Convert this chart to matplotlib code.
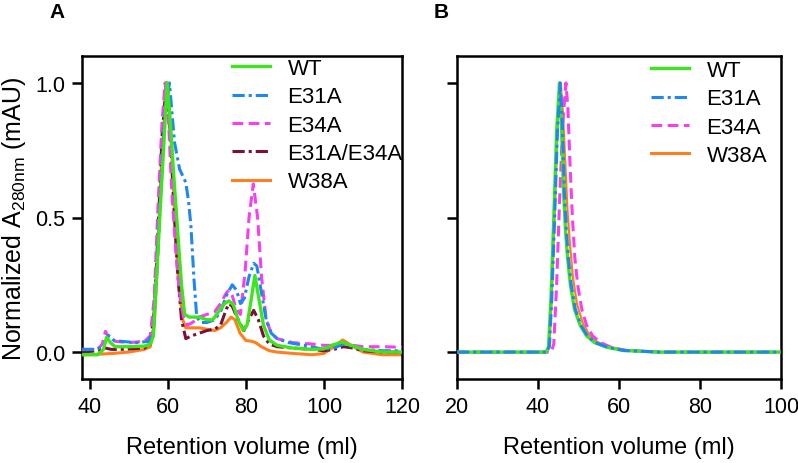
import matplotlib

matplotlib.use("Agg")
import matplotlib.pyplot as plt
from matplotlib.lines import Line2D

plt.rcParams["font.family"] = ["Liberation Sans", "DejaVu Sans"]

# ---- Panel A: SEC traces (retention volume in ml, normalized absorbance) ----
WT_A_X = [38, 42, 43.5, 44.3, 45.3, 46.5, 50, 54, 55.5, 56.3, 57, 58, 59, 59.8,
          60.5, 61.5, 62.5, 63.5, 64.3, 65.5, 68, 70, 71.5, 73, 74.5, 75.7,
          76.8, 78, 79.3, 80.3, 81.3, 82.3, 83.3, 84.5, 86, 88, 92, 97, 100,
          102, 104.5, 107, 110, 115, 120]
WT_A_Y = [-0.01, -0.01, 0.01, 0.055, 0.035, 0.02, 0.02, 0.022, 0.03, 0.06,
          0.25, 0.52, 0.78, 1.0, 0.88, 0.66, 0.45, 0.25, 0.14, 0.13, 0.13,
          0.12, 0.12, 0.15, 0.18, 0.19, 0.175, 0.12, 0.08, 0.1, 0.19, 0.285,
          0.2, 0.1, 0.045, 0.025, 0.015, 0.01, 0.012, 0.025, 0.037, 0.025,
          0.01, 0.0, 0.0]

E31A_A_X = [38, 42, 43.8, 44.8, 46, 48, 52, 55, 56.3, 57.2, 58.2, 59.2, 60.4,
            61.7, 63, 64.6, 65.3, 65.9, 66.7, 67.4, 68.5, 70, 72, 73.5, 75,
            76.5, 77.6, 78.6, 79.6, 80.8, 82, 82.8, 84, 85.2, 86.5, 88, 91,
            95, 100, 102.5, 105, 107.5, 110, 115, 120]
E31A_A_Y = [0.01, 0.01, 0.03, 0.062, 0.045, 0.04, 0.035, 0.04, 0.08, 0.3,
            0.6, 0.88, 1.0, 0.78, 0.68, 0.63, 0.56, 0.47, 0.27, 0.13, 0.11,
            0.11, 0.12, 0.15, 0.21, 0.25, 0.23, 0.18, 0.2, 0.28, 0.33, 0.32,
            0.22, 0.12, 0.07, 0.05, 0.035, 0.025, 0.01, 0.015, 0.03, 0.02,
            0.01, 0.005, 0.005]

E34A_A_X = [38, 42, 43.2, 44, 45, 46.5, 50, 54, 55.5, 56.5, 57.5, 58.5, 59.3,
            60.2, 61, 62, 63, 64, 65, 66.3, 68, 70, 72, 73.5, 75, 75.7, 76.5,
            77.5, 78.6, 79.8, 80.8, 81.9, 83, 84, 85.2, 86.5, 88, 92, 97, 100,
            102.5, 105, 107.5, 110, 115, 120]
E34A_A_Y = [0.01, 0.01, 0.03, 0.077, 0.05, 0.04, 0.035, 0.04, 0.06, 0.2,
            0.55, 0.85, 1.0, 0.85, 0.6, 0.38, 0.22, 0.13, 0.1, 0.11, 0.13,
            0.14, 0.15, 0.18, 0.22, 0.23, 0.21, 0.16, 0.14, 0.3, 0.5, 0.625,
            0.5, 0.28, 0.12, 0.07, 0.05, 0.035, 0.03, 0.025, 0.025, 0.035,
            0.025, 0.02, 0.02, 0.018]

DOUBLE_A_X = [38, 42, 44, 45.5, 48, 54, 55.5, 56.5, 57.5, 58.5, 59.6, 60.5,
              61.5, 62.5, 63.5, 64.6, 66, 68, 70, 72, 73.5, 75, 75.7, 76.5,
              78, 79.5, 80.7, 82, 83.2, 84.5, 86, 88, 92, 97, 100, 102.5, 105,
              107.5, 110, 115, 120]
DOUBLE_A_Y = [0.0, 0.005, 0.015, 0.01, 0.01, 0.015, 0.03, 0.15, 0.45, 0.8,
              1.0, 0.85, 0.55, 0.3, 0.12, 0.05, 0.06, 0.07, 0.08, 0.085, 0.1,
              0.16, 0.18, 0.17, 0.12, 0.08, 0.12, 0.155, 0.12, 0.06, 0.03,
              0.02, 0.015, 0.01, 0.005, 0.01, 0.02, 0.015, 0.005, 0.0, 0.0]

W38A_A_X = [38, 42, 46, 50, 54, 55.5, 56.5, 57.5, 58.5, 59.8, 60.8, 61.8,
            62.8, 63.8, 64.6, 66, 68, 70, 72, 73.5, 75, 76.2, 77.2, 78.5, 80,
            81.5, 82.5, 84, 86, 88, 92, 97, 100, 102.5, 104.8, 107, 110, 115,
            120]
W38A_A_Y = [-0.01, -0.008, -0.005, 0.0, 0.01, 0.02, 0.1, 0.4, 0.75, 1.0,
            0.8, 0.5, 0.25, 0.12, 0.09, 0.09, 0.09, 0.085, 0.08, 0.09, 0.11,
            0.13, 0.12, 0.07, 0.043, 0.04, 0.035, 0.02, 0.005, 0.0, -0.005,
            -0.01, -0.005, 0.02, 0.045, 0.025, 0.0, -0.01, -0.01]

# ---- Panel B ----
WT_B_X = [20, 42, 42.6, 43.2, 43.9, 44.6, 45.3, 45.8, 46.3, 46.8, 47.3, 48,
          49, 50.4, 52, 54, 57, 61, 70, 100]
WT_B_Y = [0, 0, 0.02, 0.2, 0.5, 0.82, 1.0, 0.85, 0.6, 0.45, 0.35, 0.25, 0.16,
          0.1, 0.06, 0.035, 0.018, 0.006, 0.0, 0.0]

E31A_B_X = [20, 42.2, 42.8, 43.4, 44.1, 44.8, 45.5, 46, 46.5, 47, 47.5, 48.2,
            49.2, 50.6, 52.2, 54.2, 57.2, 61.2, 70, 100]
E31A_B_Y = [0, 0, 0.02, 0.2, 0.5, 0.82, 1.0, 0.85, 0.6, 0.45, 0.35, 0.25,
            0.16, 0.1, 0.06, 0.035, 0.018, 0.006, 0.0, 0.0]

E34A_B_X = [20, 43.3, 43.9, 44.6, 45.3, 46.1, 46.9, 47.4, 47.9, 48.5, 49.1,
            49.8, 50.8, 52, 53.5, 55.5, 58.5, 62, 70, 100]
E34A_B_Y = [0, 0, 0.03, 0.25, 0.55, 0.85, 1.0, 0.9, 0.7, 0.5, 0.35, 0.25,
            0.16, 0.1, 0.06, 0.035, 0.015, 0.006, 0.0, 0.0]

W38A_B_X = [20, 42.2, 42.8, 43.4, 44.1, 44.8, 45.6, 46.2, 46.8, 47.3, 47.9,
            48.6, 49.6, 51, 52.6, 54.6, 57.6, 61.5, 70, 100]
W38A_B_Y = [0, 0, 0.02, 0.2, 0.5, 0.82, 1.0, 0.88, 0.68, 0.52, 0.4, 0.28,
            0.18, 0.11, 0.065, 0.038, 0.02, 0.007, 0.0, 0.0]

LABELS_A = ["WT", "E31A", "E34A", "E31A/E34A", "W38A"]
LABELS_B = ["WT", "E31A", "E34A", "W38A"]

STYLES = {
    "WT": dict(color="#3ee51c", linestyle="-", lw=2.4),
    "E31A": dict(color="#1e88f0", linestyle=(0, (4, 1.3, 1, 1.3)), lw=2.2),
    "E34A": dict(color="#f73ff0", linestyle=(0, (3.5, 1.8)), lw=2.2),
    "E31A/E34A": dict(color="#7a1238", linestyle=(0, (4, 1.3, 1, 1.3)), lw=2.2),
    "W38A": dict(color="#ff7f1e", linestyle="-", lw=2.2),
}

W, H = 798, 464
fig = plt.figure(figsize=(W / 100, H / 100), dpi=100)

ax_a = fig.add_axes([82 / W, 1 - 380 / H, 320 / W, 323 / H])
ax_b = fig.add_axes([457 / W, 1 - 380 / H, 324 / W, 323 / H])

traces_a = {
    "WT": (WT_A_X, WT_A_Y),
    "E31A": (E31A_A_X, E31A_A_Y),
    "E34A": (E34A_A_X, E34A_A_Y),
    "E31A/E34A": (DOUBLE_A_X, DOUBLE_A_Y),
    "W38A": (W38A_A_X, W38A_A_Y),
}
z_a = {"W38A": 2, "E31A/E34A": 3, "E34A": 4, "E31A": 5, "WT": 6}
for name, (xs, ys) in traces_a.items():
    ax_a.plot(xs, ys, zorder=z_a[name], **STYLES[name])

traces_b = {
    "WT": (WT_B_X, WT_B_Y),
    "E31A": (E31A_B_X, E31A_B_Y),
    "E34A": (E34A_B_X, E34A_B_Y),
    "W38A": (W38A_B_X, W38A_B_Y),
}
z_b = {"W38A": 2, "E34A": 3, "WT": 4, "E31A": 5}
for name, (xs, ys) in traces_b.items():
    style = dict(STYLES[name])
    if name == "W38A":
        style["lw"] = 1.6
    ax_b.plot(xs, ys, zorder=z_b[name], **style)

for ax in (ax_a, ax_b):
    ax.set_ylim(-0.1, 1.1)
    ax.set_yticks([0.0, 0.5, 1.0])
    for spine in ax.spines.values():
        spine.set_linewidth(1.8)
    ax.tick_params(direction="out", length=7, width=1.8, labelsize=15.5, pad=5)
    ax.set_xlabel("Retention volume (ml)", fontsize=17, labelpad=14)

ax_a.set_xlim(38, 120)
ax_a.set_xticks([40, 60, 80, 100, 120])
ax_a.set_yticklabels(["0.0", "0.5", "1.0"])
ax_a.set_ylabel(r"Normalized A$_{\mathregular{280nm}}$ (mAU)", fontsize=18, labelpad=5)

ax_b.set_xlim(20, 100)
ax_b.set_xticks([20, 40, 60, 80, 100])
ax_b.set_yticklabels([])


def legend_handles(names):
    return [Line2D([], [], **STYLES[n]) for n in names]


leg_a = ax_a.legend(
    legend_handles(LABELS_A), LABELS_A,
    loc="upper left", bbox_to_anchor=(232 / W, 1 - 59 / H),
    bbox_transform=fig.transFigure, frameon=False, fontsize=16,
    handlelength=1.7, handletextpad=0.8, labelspacing=0.33,
    borderpad=0, borderaxespad=0,
)
leg_b = ax_b.legend(
    legend_handles(LABELS_B), LABELS_B,
    loc="upper left", bbox_to_anchor=(651 / W, 1 - 61 / H),
    bbox_transform=fig.transFigure, frameon=False, fontsize=16,
    handlelength=1.7, handletextpad=0.8, labelspacing=0.33,
    borderpad=0, borderaxespad=0,
)

fig.text(57 / W, 1 - 13 / H, "A", fontsize=15, fontweight="bold", ha="center", va="center")
fig.text(441 / W, 1 - 13 / H, "B", fontsize=15, fontweight="bold", ha="center", va="center")

fig.savefig("out.png", dpi=100)
